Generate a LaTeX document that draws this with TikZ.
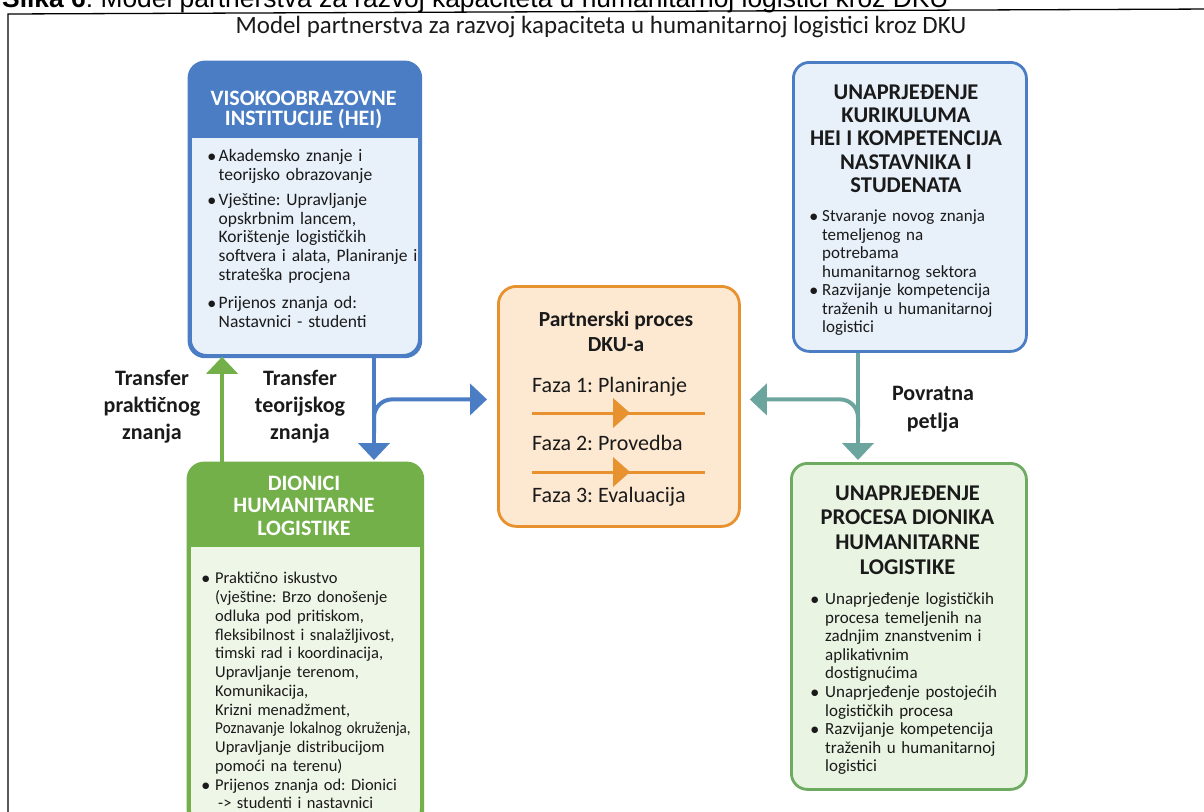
\documentclass[tikz,border=0pt]{standalone}
\usepackage{fontspec}
\usepackage{graphicx}
\setmainfont{Carlito}
\newfontfamily\arialf{Liberation Sans}
\newfontfamily\djv{DejaVu Sans}
\usetikzlibrary{calc,arrows.meta}
\definecolor{hblue}{HTML}{4A7DC4}
\definecolor{lblue}{HTML}{E8F0FA}
\definecolor{hgreen}{HTML}{73B04A}
\definecolor{lgreen}{HTML}{EEF6E7}
\definecolor{bgreen}{HTML}{6CAB60}
\definecolor{lgreenb}{HTML}{E9F4E2}
\definecolor{orng}{HTML}{E8912F}
\definecolor{peach}{HTML}{FDE9D2}
\definecolor{tealc}{HTML}{6CA59E}
\definecolor{txt}{HTML}{1A1A1A}
\newcommand\bdot{\raisebox{2.2pt}{\djv\fontsize{8.5}{9}\selectfont ●}}
\newcommand\bitem[2][10pt]{\par\noindent\hangindent=#1\hangafter=1\makebox[#1][l]{\bdot}\strut#2\par}
\begin{document}
\frenchspacing
\begin{tikzpicture}[x=1pt,y=-1pt,
  box/.style={rounded corners=16pt, line width=2.8pt, inner sep=0pt, anchor=north west},
  hdrw/.style={font=\bfseries\fontsize{22}{20.5}\selectfont, text=white, align=center, inner sep=0pt},
  ttl/.style={font=\bfseries\fontsize{22.5}{23.3}\selectfont, text=txt, align=center, inner sep=0pt},
  body/.style={font=\fontsize{17}{18.5}\selectfont, text=txt, align=left, inner sep=0pt, anchor=north west, text width=240pt},
  lbl/.style={font=\bfseries\fontsize{22}{27}\selectfont, text=txt, align=center, inner sep=0pt},
  phase/.style={font=\fontsize{22}{24}\selectfont, text=txt, inner sep=0pt, anchor=west},
  arr/.style={line width=4pt, -{Triangle[width=31pt,length=17pt]}}
]
\useasboundingbox (0,0) rectangle (1204,811);
\fill[white] (0,0) rectangle (1204,811);

% caption (cut off at top) and frame
\node[anchor=base west, inner sep=0pt, font=\arialf\fontsize{26.4}{30}\selectfont] (cap) at (2,7)
  {\textbf{Slika 6}: Model partnerstva za razvoj kapaciteta u humanitarnoj logistici kroz DKU};
\draw[line width=1.3pt] (1215,9) -- (8,14) -- (8,850);

\node[font=\fontsize{24.9}{28}\selectfont, text=txt, inner sep=0pt] (title) at (601,27)
  {Model partnerstva za razvoj kapaciteta u humanitarnoj logistici kroz DKU};

% HEI box
\node[box, draw=hblue, fill=lblue, minimum width=229pt, minimum height=292pt] (hei) at (189,62) {};
\begin{scope}
\clip[rounded corners=16pt] (hei.north west) rectangle (hei.south east);
\fill[hblue] (hei.north west) rectangle ([yshift=-76pt]hei.north east);
\end{scope}
\draw[hblue, line width=2.8pt, rounded corners=16pt] (hei.north west) rectangle (hei.south east);
\node[hdrw] (heih) at (303.5,110) {VISOKOOBRAZOVNE\\INSTITUCIJE (HEI)};
\node[body, font=\fontsize{17.5}{18.7}\selectfont] (heit) at (208,143) {%
\bitem[10.5pt]{Akademsko znanje i\newline teorijsko obrazovanje}\vskip6pt
\bitem[10.5pt]{Vještine: Upravljanje\newline opskrbnim lancem,\newline Korištenje logističkih\newline softvera i alata, Planiranje i\newline strateška procjena}\vskip10pt
\bitem[10.5pt]{Prijenos znanja od:\newline Nastavnici - studenti}};

% top right box
\node[box, draw=hblue, fill=lblue, minimum width=233pt, minimum height=289pt] (tr) at (792,61) {};
\node[ttl] (trh) at (906,138.5) {UNAPRJEĐENJE\\KURIKULUMA\\HEI I KOMPETENCIJA\\NASTAVNIKA I\\STUDENATA};
\node[body] (trt) at (810,203) {%
\bitem[12pt]{Stvaranje novog znanja\newline temeljenog na\newline potrebama\newline humanitarnog sektora}
\bitem[12pt]{Razvijanje kompetencija\newline traženih u humanitarnoj\newline logistici}};

% center box
\node[box, draw=orng, fill=peach, minimum width=241pt, minimum height=240pt, rounded corners=18pt] (cb) at (497,285) {};
\node[lbl, font=\bfseries\fontsize{21.5}{25}\selectfont] (cbt) at (616,332) {Partnerski proces\\DKU-a};
\node[phase] (f1) at (532,387) {Faza 1: Planiranje};
\node[phase] (f2) at (532,443) {Faza 2: Provedba};
\node[phase] (f3) at (532,497) {Faza 3: Evaluacija};
\draw[orng, line width=3pt] ($(cb.north west)+(35,128)$) -- ++(173,0);
\fill[orng] ($(cb.north west)+(116,113)$) -- ++(17,15) -- ++(-17,15) -- cycle;
\draw[orng, line width=3pt] ($(cb.north west)+(35,187)$) -- ++(173,0);
\fill[orng] ($(cb.north west)+(116,172)$) -- ++(17,15) -- ++(-17,15) -- cycle;

% DH box
\node[box, draw=hgreen, fill=lgreen, minimum width=232pt, minimum height=360pt] (dh) at (188,463) {};
\begin{scope}
\clip[rounded corners=16pt] (dh.north west) rectangle (dh.south east);
\fill[hgreen] (dh.north west) rectangle ([yshift=-84pt]dh.north east);
\end{scope}
\draw[hgreen, line width=2.8pt, rounded corners=16pt] (dh.north west) rectangle (dh.south east);
\node[hdrw, font=\bfseries\fontsize{22}{22.5}\selectfont] (dhh) at (304,505.5) {DIONICI\\HUMANITARNE\\LOGISTIKE};
\node[body, font=\fontsize{16.5}{18.75}\selectfont] (dht) at (202,565) {%
\bitem[13pt]{Praktično iskustvo\newline (vještine: Brzo donošenje\newline odluka pod pritiskom,\newline fleksibilnost i snalažljivost,\newline timski rad i koordinacija,\newline Upravljanje terenom,\newline Komunikacija,\newline Krizni menadžment,\newline \scalebox{0.92}[1]{Poznavanje lokalnog okruženja,}\newline Upravljanje distribucijom\newline pomoći na terenu)}
\bitem[13pt]{Prijenos znanja od: Dionici\newline\hspace*{3pt}-> studenti i nastavnici}};

% BR box
\node[box, draw=bgreen, fill=lgreenb, minimum width=235pt, minimum height=326pt] (br) at (790,462) {};
\node[ttl, font=\bfseries\fontsize{22.5}{24.6}\selectfont] (brh) at (907.5,530) {UNAPRJEĐENJE\\PROCESA DIONIKA\\HUMANITARNE\\LOGISTIKE};
\node[body, font=\fontsize{17}{18.55}\selectfont] (brt) at (811,586) {%
\bitem[14pt]{Unaprjeđenje logističkih\newline procesa temeljenih na\newline zadnjim znanstvenim i\newline aplikativnim\newline dostignućima}
\bitem[14pt]{Unaprjeđenje postojećih\newline logističkih procesa}
\bitem[14pt]{Razvijanje kompetencija\newline traženih u humanitarnoj\newline logistici}};

% green arrow up (practical knowledge)
\coordinate (gx) at ($(dh.north west)+(34,0)$);
\draw[arr, hgreen] (gx) -- (gx |- hei.south);

% blue arrows (theoretical knowledge)
\coordinate (bx) at ($(hei.south west)+(185,0)$);
\coordinate (btip) at ($(bx |- dh.north)+(0,-3)$);
\coordinate (bbr) at ($(bx)+(0,76)$);
\coordinate (bt) at ($(cb.west)+(-10,-7)$);
\draw[arr, hblue] (bx) -- (btip);
\draw[arr, hblue, rounded corners=18pt] (bbr) -- (bx |- bt) -- (bt);

% teal arrows (feedback loop)
\coordinate (tx) at ($(tr.south west)+(66,0)$);
\coordinate (ttip) at ($(tx |- br.north)+(0,-2)$);
\coordinate (tbr) at ($(tx)+(0,75)$);
\coordinate (tt) at ($(cb.east)+(9,-7)$);
\draw[arr, tealc] (tx) -- (ttip);
\draw[arr, tealc, rounded corners=18pt] (tbr) -- (tx |- tt) -- (tt);

% labels
\node[lbl] (ltp) at (152,407) {Transfer\\praktičnog\\znanja};
\node[lbl] (ltt) at (300,407) {Transfer\\teorijskog\\znanja};
\node[lbl, font=\bfseries\fontsize{22}{28}\selectfont] (lpp) at (933,409) {Povratna\\petlja};
\end{tikzpicture}
\end{document}
